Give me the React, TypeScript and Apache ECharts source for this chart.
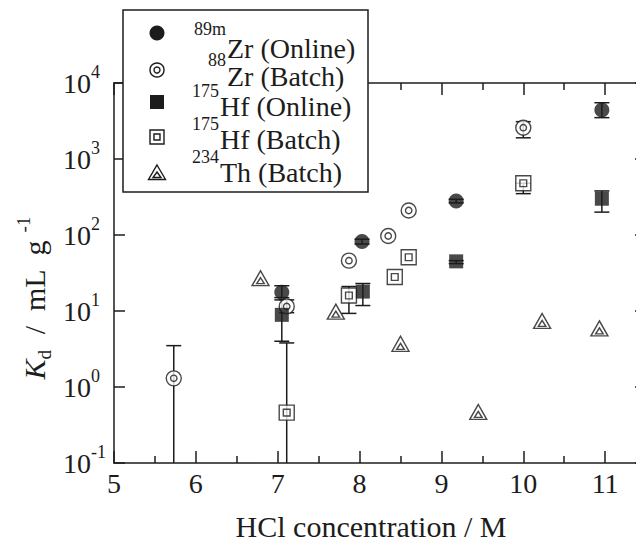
import React, { useEffect, useRef } from 'react';
import * as echarts from 'echarts';

// ---- data (HCl concentration / M, Kd / mL g^-1) ----
const zr89OnlineX = [7.05, 8.03, 9.18, 10.96];
const zr89OnlineY = [17.7, 82, 280, 4400];
const zr89OnlineLo = [15, 76, 265, 3500];
const zr89OnlineHi = [21.5, 88, 295, 5500];

const zr88BatchX = [5.73, 7.11, 7.87, 8.35, 8.6, 10.0];
const zr88BatchY = [1.3, 11.5, 46, 97, 210, 2580];
const zr88BatchLo = [0.1, 9.5, 46, 97, 210, 1900];
const zr88BatchHi = [3.5, 14, 46, 97, 210, 3100];

const hf175OnlineX = [7.05, 8.04, 9.18, 10.96];
const hf175OnlineY = [8.9, 18, 45, 300];
const hf175OnlineLo = [4.0, 11.8, 42, 200];
const hf175OnlineHi = [14, 23, 46, 380];

const hf175BatchX = [7.11, 7.87, 8.43, 8.6, 10.0];
const hf175BatchY = [0.46, 16, 28, 51, 480];
const hf175BatchLo = [0.1, 9.3, 28, 51, 350];
const hf175BatchHi = [3.8, 21, 28, 51, 480];

const th234BatchX = [6.79, 7.71, 8.5, 9.45, 10.23, 10.93];
const th234BatchY = [27, 9.8, 3.7, 0.47, 7.4, 5.9];

const legendSup = ['89m', '88', '175', '175', '234'];
const legendMain = ['Zr (Online)', 'Zr (Batch)', 'Hf (Online)', 'Hf (Batch)', 'Th (Batch)'];
const xTitle = 'HCl concentration / M';

const FONT = 'Liberation Serif, serif';
const INK = '#1c1c1c';

const ringPath = 'path://M8,0A8,8 0 1,1 -8,0A8,8 0 1,1 8,0ZM3.4,0A3.4,3.4 0 1,1 -3.4,0A3.4,3.4 0 1,1 3.4,0Z';
const sqPath = 'path://M-8,-8L8,-8L8,8L-8,8ZM-3.6,-3.6L3.6,-3.6L3.6,3.6L-3.6,3.6Z';
const triPath = 'path://M0,-8L9,7L-9,7ZM0,-1L4,5L-4,5Z';

function pts(xs: number[], ys: number[]) {
  return xs.map((x, i) => [x, ys[i]]);
}
function errPts(xs: number[], ys: number[], lo: number[], hi: number[]) {
  return xs.map((x, i) => [x, ys[i], lo[i], hi[i]]);
}

function renderErr(params: any, api: any) {
  const x = api.value(0);
  const lo = api.value(2);
  const hi = api.value(3);
  const children: any[] = [];
  if (hi > lo) {
    const pLo = api.coord([x, lo]);
    const pHi = api.coord([x, hi]);
    const hw = 7.5;
    const st = { stroke: INK, lineWidth: 1.5 };
    children.push({ type: 'line', shape: { x1: pLo[0], y1: pLo[1], x2: pHi[0], y2: pHi[1] }, style: st });
    children.push({ type: 'line', shape: { x1: pHi[0] - hw, y1: pHi[1], x2: pHi[0] + hw, y2: pHi[1] }, style: st });
    if (lo > 0.1) {
      children.push({ type: 'line', shape: { x1: pLo[0] - hw, y1: pLo[1], x2: pLo[0] + hw, y2: pLo[1] }, style: st });
    }
  }
  return { type: 'group', children };
}

function errSeries(data: any[]) {
  return {
    type: 'custom',
    renderItem: renderErr,
    data,
    encode: { x: 0, y: 1 },
    z: 1,
    silent: true,
    clip: false,
  };
}

const openStyle = { color: '#fff', borderColor: INK, borderWidth: 1.4 };
const filledStyle = { color: INK, borderColor: INK, borderWidth: 0 };

function buildLegend() {
  const els: any[] = [];
  els.push({
    type: 'rect',
    shape: { x: 123, y: 10, width: 245, height: 182 },
    style: { fill: '#fff', stroke: INK, lineWidth: 1.5 },
    z: 100,
  });
  const cx = 157;
  const cy = [33, 70, 102, 137, 173];
  const st = { fill: '#fff', stroke: INK, lineWidth: 1.4 };
  els.push({ type: 'circle', shape: { cx, cy: cy[0], r: 7.5 }, style: { fill: INK }, z: 101 });
  els.push({ type: 'circle', shape: { cx, cy: cy[1], r: 7 }, style: st, z: 101 });
  els.push({ type: 'circle', shape: { cx, cy: cy[1], r: 3 }, style: st, z: 102 });
  els.push({ type: 'rect', shape: { x: cx - 7, y: cy[2] - 7, width: 14, height: 14 }, style: { fill: INK }, z: 101 });
  els.push({ type: 'rect', shape: { x: cx - 7, y: cy[3] - 7, width: 14, height: 14 }, style: st, z: 101 });
  els.push({ type: 'rect', shape: { x: cx - 3, y: cy[3] - 3, width: 6, height: 6 }, style: st, z: 102 });
  els.push({
    type: 'polygon',
    shape: { points: [[cx, cy[4] - 8], [cx + 8.5, cy[4] + 6.5], [cx - 8.5, cy[4] + 6.5]] },
    style: st,
    z: 101,
  });
  els.push({
    type: 'polygon',
    shape: { points: [[cx, cy[4] - 1], [cx + 4, cy[4] + 4.5], [cx - 4, cy[4] + 4.5]] },
    style: st,
    z: 102,
  });
  const anchorX = [227, 227, 220, 220, 220];
  const mainBase = [58, 86, 116, 149, 182];
  const supBase = [35, 66, 97, 130, 163];
  legendMain.forEach((t, i) => {
    els.push({
      type: 'text',
      x: anchorX[i],
      y: mainBase[i] - 9.5,
      style: { text: t, fontSize: 28, fontFamily: FONT, fill: INK, align: 'left', verticalAlign: 'middle' },
      z: 103,
    });
    els.push({
      type: 'text',
      x: anchorX[i] - 1,
      y: supBase[i] - 6,
      style: { text: legendSup[i], fontSize: 18, fontFamily: FONT, fill: INK, align: 'right', verticalAlign: 'middle' },
      z: 103,
    });
  });
  // x axis title
  els.push({
    type: 'text',
    x: 371,
    y: 526,
    style: { text: xTitle, fontSize: 30, fontFamily: FONT, fill: INK, align: 'center', verticalAlign: 'middle' },
    z: 50,
  });
  // y axis title
  els.push({
    type: 'text',
    x: 34,
    y: 298,
    rotation: Math.PI / 2,
    style: {
      text: '{k|K}{d|d}{m|  /  mL  g }{s|-1}',
      align: 'center',
      verticalAlign: 'middle',
      rich: {
        k: { fontSize: 30, fontFamily: FONT, fontStyle: 'italic', fill: INK, lineHeight: 40, verticalAlign: 'middle' },
        d: { fontSize: 19, fontFamily: FONT, fill: INK, lineHeight: 28, verticalAlign: 'bottom' },
        m: { fontSize: 30, fontFamily: FONT, fill: INK, lineHeight: 40, verticalAlign: 'middle' },
        s: { fontSize: 19, fontFamily: FONT, fill: INK, lineHeight: 19, verticalAlign: 'top' },
      },
    },
    z: 50,
  });
  return els;
}

const axisLineStyle = { color: INK, width: 1.5 };

const option: any = {
  animation: false,
  backgroundColor: '#fff',
  textStyle: { fontFamily: FONT },
  grid: { left: 114, top: 83, width: 573, height: 380, outerBoundsMode: 'none' },
  xAxis: [
    {
      type: 'value',
      position: 'bottom',
      min: 5,
      max: 12,
      interval: 1,
      axisLine: { show: true, lineStyle: axisLineStyle },
      axisTick: { show: true, inside: true, length: 12, lineStyle: axisLineStyle },
      minorTick: { show: true, splitNumber: 2, length: 7, lineStyle: axisLineStyle },
      splitLine: { show: false },
      axisLabel: { margin: 6, fontSize: 28, fontFamily: FONT, color: INK, showMaxLabel: false },
    },
    {
      type: 'value',
      position: 'top',
      min: 5,
      max: 12,
      interval: 1,
      axisLine: { show: true, lineStyle: axisLineStyle },
      axisTick: { show: true, inside: true, length: 12, lineStyle: axisLineStyle },
      minorTick: { show: true, splitNumber: 2, length: 7, lineStyle: axisLineStyle },
      splitLine: { show: false },
      axisLabel: { show: false },
    },
  ],
  yAxis: [
    {
      type: 'log',
      logBase: 10,
      position: 'left',
      min: 0.1,
      max: 10000,
      splitNumber: 5,
      axisLine: { show: true, lineStyle: axisLineStyle },
      axisTick: { show: true, inside: true, length: 11, lineStyle: axisLineStyle },
      splitLine: { show: false },
      axisLabel: {
        margin: 51,
        align: 'left',
        formatter: (v: number) => `{b|10}{s|${Math.round(Math.log10(v))}}`,
        rich: {
          b: { fontSize: 28, fontFamily: FONT, color: INK, lineHeight: 40, verticalAlign: 'middle' },
          s: { fontSize: 18, fontFamily: FONT, color: INK, lineHeight: 18, verticalAlign: 'top' },
        },
      },
    },
    {
      type: 'log',
      logBase: 10,
      position: 'right',
      offset: -41,
      min: 0.1,
      max: 10000,
      splitNumber: 5,
      axisLine: { show: true, lineStyle: axisLineStyle },
      axisTick: { show: true, inside: true, length: 11, lineStyle: axisLineStyle },
      splitLine: { show: false },
      axisLabel: { show: false },
    },
  ],
  graphic: { elements: buildLegend() },
  series: [
    errSeries(errPts(zr88BatchX, zr88BatchY, zr88BatchLo, zr88BatchHi)),
    errSeries(errPts(hf175BatchX, hf175BatchY, hf175BatchLo, hf175BatchHi)),
    errSeries(errPts(zr89OnlineX, zr89OnlineY, zr89OnlineLo, zr89OnlineHi)),
    errSeries(errPts(hf175OnlineX, hf175OnlineY, hf175OnlineLo, hf175OnlineHi)),
    {
      name: '88Zr (Batch)',
      type: 'scatter',
      data: pts(zr88BatchX, zr88BatchY),
      symbol: ringPath,
      symbolSize: 15,
      itemStyle: openStyle,
      z: 3,
      silent: true,
    },
    {
      name: '175Hf (Batch)',
      type: 'scatter',
      data: pts(hf175BatchX, hf175BatchY),
      symbol: sqPath,
      symbolSize: 15,
      itemStyle: openStyle,
      z: 3,
      silent: true,
    },
    {
      name: '234Th (Batch)',
      type: 'scatter',
      data: pts(th234BatchX, th234BatchY),
      symbol: triPath,
      symbolSize: [17, 15],
      itemStyle: openStyle,
      z: 3,
      silent: true,
    },
    {
      name: '89mZr (Online)',
      type: 'scatter',
      data: pts(zr89OnlineX, zr89OnlineY),
      symbol: 'circle',
      symbolSize: 15,
      itemStyle: filledStyle,
      z: 4,
      silent: true,
    },
    {
      name: '175Hf (Online)',
      type: 'scatter',
      data: pts(hf175OnlineX, hf175OnlineY),
      symbol: 'rect',
      symbolSize: 14,
      itemStyle: filledStyle,
      z: 4,
      silent: true,
    },
  ],
};

export default function App() {
  const ref = useRef<HTMLDivElement>(null);
  useEffect(() => {
    document.body.style.margin = '0';
    const chart = echarts.init(ref.current!, null, { renderer: 'svg' });
    chart.setOption(option);
    return () => chart.dispose();
  }, []);
  return (
    <div
      ref={ref}
      style={{ position: 'absolute', left: 0, top: 0, width: 636, height: 542, background: '#fff' }}
    />
  );
}
